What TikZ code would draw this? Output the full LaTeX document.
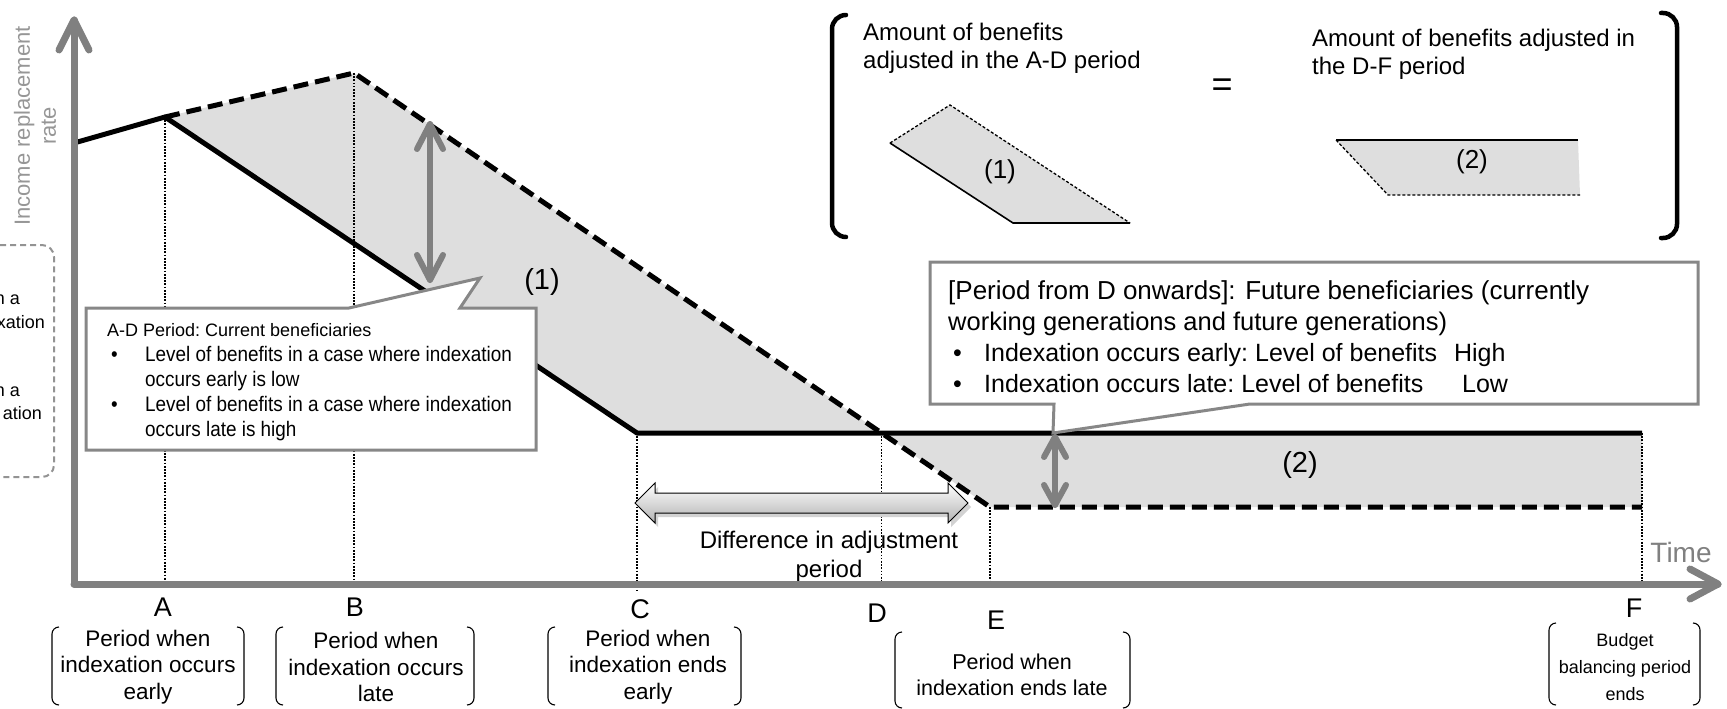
\documentclass[tikz,border=0pt]{standalone}
\usepackage{fontspec}
\setmainfont{Liberation Sans}
\newfontfamily\narrowfont[FakeStretch=0.9]{Liberation Sans}
\usetikzlibrary{calc}
\definecolor{axgray}{RGB}{128,128,128}
\definecolor{labgray}{RGB}{150,150,150}
\definecolor{shadegray}{RGB}{222,222,222}
\definecolor{boxgray}{RGB}{135,135,135}
\newcommand{\fsz}[2]{\fontsize{#1}{#2}\selectfont}
\newcommand{\parpair}[4]{%
  \draw[paren] (#1+7,#3) -- (#1,#3) -- (#1,#4) -- (#1+7,#4);
  \draw[paren] (#2-7,#3) -- (#2,#3) -- (#2,#4) -- (#2-7,#4);}
\begin{document}
\begin{tikzpicture}[x=1pt,y=-1pt,
  axisline/.style={line width=7pt, draw=axgray, line cap=round, line join=round},
  garrow/.style={line width=6pt, draw=axgray, line cap=round, line join=round},
  solidline/.style={line width=5pt, line join=round},
  dashline/.style={line width=5pt, dash pattern=on 15pt off 7pt},
  dotline/.style={line width=1.7pt, dash pattern=on 1.7pt off 1.5pt},
  smalldash/.style={line width=1.3pt, dash pattern=on 3pt off 2pt},
  smallsolid/.style={line width=1.6pt},
  callout/.style={draw=boxgray, line width=3pt, fill=white, line join=miter},
  lab/.style={inner sep=0pt, font=\fsz{22.5}{26.5}, align=center},
  letter/.style={inner sep=0pt, font=\fsz{27}{30}},
  paren/.style={line width=1.1pt, rounded corners=7pt},
  bigparen/.style={line width=4.5pt, rounded corners=14pt, line cap=round},
]
\useasboundingbox (0,0) rectangle (1727,709);

% key points
\coordinate (O) at (74,584);
\coordinate (Ytip) at (74,20);
\coordinate (Xtip) at (1718,584);
\coordinate (S0) at (74,143);
\coordinate (A) at (165,117);
\coordinate (B) at (354,73);
\coordinate (C) at (637,433);
\coordinate (E) at (990,507);
\coordinate (Ft) at (1642,433);
\coordinate (Fb) at (1642,507);
\coordinate (D) at (intersection of B--E and C--Ft);

% shaded areas
\fill[shadegray] (A) -- (B) -- (D) -- (C) -- cycle;
\fill[shadegray] (D) -- (E) -- (Fb) -- (Ft) -- cycle;

% dotted guides
\draw[dotline] (A) -- (A |- O);
\draw[dotline] (B) -- (B |- O);
\draw[dotline] (C) -- ($(C |- O)+(0,6)$);
\draw[dotline] (D) -- (D |- O);
\draw[dotline] (E) -- ($(E |- O)+(0,3)$);
\draw[dotline] (Ft) -- (Ft |- O);

% benefit lines
\draw[solidline] (S0) -- (A) -- (C) -- (Ft);
\draw[dashline] (A) -- (B) -- (E) -- (Fb);

% gray double arrows
\coordinate (g1t) at (430,124);
\coordinate (g1b) at (430,280);
\draw[garrow] (g1t) -- (g1b);
\draw[garrow] ($(g1t)+(-13,25)$) -- (g1t) -- ($(g1t)+(13,25)$);
\draw[garrow] ($(g1b)+(-13,-25)$) -- (g1b) -- ($(g1b)+(13,-25)$);
\coordinate (g2t) at (1055,437);
\coordinate (g2b) at (1055,505);
\draw[garrow] (g2t) -- (g2b);
\draw[garrow] ($(g2t)+(-11,20)$) -- (g2t) -- ($(g2t)+(11,20)$);
\draw[garrow] ($(g2b)+(-11,-20)$) -- (g2b) -- ($(g2b)+(11,-20)$);

% block double arrow
\coordinate (dl) at (635,503);
\coordinate (dr) at (968,503);
\fill[gray!35] ($(dl)+(3,4)$) -- ++(20,-20) -- ++(0,10) -- ($(dr)+(-17,-6)$) -- ++(0,-10) -- ($(dr)+(3,4)$) -- ++(-20,20) -- ++(0,-10) -- ($(dl)+(23,14)$) -- ++(0,10) -- cycle;
\path[draw=black, line width=1pt, top color=white, bottom color=gray!60, line join=miter]
  (dl) -- ++(20,-20) -- ++(0,10) -- ($(dr)+(-20,-10)$) -- ++(0,-10) -- (dr)
  -- ++(-20,20) -- ++(0,-10) -- ($(dl)+(20,10)$) -- ++(0,10) -- cycle;
\node[font=\fsz{24}{29}, align=center, inner sep=0pt] (diff) at (829,557) {Difference in adjustment\\period};

% region labels
\node[font=\fsz{29}{32}, inner sep=0pt] (n1) at (542,282) {(1)};
\node[font=\fsz{29}{32}, inner sep=0pt] (n2) at (1300,465) {(2)};

% callout 1
\draw[callout] (86,308) -- (349,308) -- (480,278) -- (460,308) -- (536,308) -- (536,450) -- (86,450) -- cycle;
\node[anchor=north west, inner sep=0pt, align=left, font=\narrowfont\fsz{21}{25}] (c1) at (107,323)
 {{\normalfont\fsz{18}{25}\frenchspacing A-D Period: Current beneficiaries}\\
  \makebox[38pt][l]{\hspace{4pt}\textbullet}Level of benefits in a case where indexation\\
  \hspace*{38pt}occurs early is low\\
  \makebox[38pt][l]{\hspace{4pt}\textbullet}Level of benefits in a case where indexation\\
  \hspace*{38pt}occurs late is high};

% callout 2
\draw[callout] (930,262) -- (1698,262) -- (1698,404) -- (1250,404) -- (1053,433) -- (1054,404) -- (930,404) -- cycle;
\node[anchor=north west, inner sep=0pt, align=left, font=\fsz{25.5}{31}] (c2) at (948,280)
 {{\fsz{26}{31}[Period from D onwards]: Future beneficiaries (currently}\\
  working generations and future generations)\\
  {\fsz{25}{31}\frenchspacing\makebox[36pt][l]{\hspace{5pt}\textbullet}\makebox[470pt][l]{Indexation occurs early: Level of benefits}High}\\
  {\fsz{25}{31}\frenchspacing\makebox[36pt][l]{\hspace{5pt}\textbullet}\makebox[478pt][l]{Indexation occurs late: Level of benefits}Low}};

% top comparison
\draw[bigparen] (846,15) -- (832,15) -- (832,237) -- (846,237);
\draw[bigparen] (1661,13) -- (1677,13) -- (1677,238) -- (1661,238);
\node[anchor=north west, inner sep=0pt, align=left, font=\fsz{24}{28}] (amt1) at (863,23) {Amount of benefits\\adjusted in the A-D period};
\node[anchor=north west, inner sep=0pt, align=left, font=\fsz{24}{28}] (amt2) at (1312,29) {Amount of benefits adjusted in\\the D-F period};
\node[font=\fsz{36}{38}, inner sep=0pt] (eq) at (1222,88) {=};
\fill[shadegray] (890,143) -- (950,105) -- (1130,223) -- (1013,223) -- cycle;
\draw[smalldash] (890,143) -- (950,105) -- (1130,223);
\draw[smallsolid] (1130,223) -- (1013,223) -- (890,143);
\node[font=\fsz{26}{28}, inner sep=0pt] (s1) at (1000,172) {(1)};
\fill[shadegray] (1336,140) -- (1578,140) -- (1580,195) -- (1388,195) -- cycle;
\draw[smallsolid] (1336,140) -- (1578,140);
\draw[smalldash] (1336,140) -- (1388,195) -- (1580,195);
\node[font=\fsz{26}{28}, inner sep=0pt] (s2) at (1472,162) {(2)};

% left clipped dashed box
\begin{scope}
\clip (0,0) rectangle (1727,709);
\draw[draw=gray!85, line width=2pt, dash pattern=on 6pt off 4pt, rounded corners=12pt] (-20,245) -- (54,245) -- (54,477) -- (-20,477);
\node[anchor=base east, inner sep=0pt, font=\fsz{18}{22}] (f1) at (20,304) {n a};
\node[anchor=base east, inner sep=0pt, font=\fsz{18}{22}] (f2) at (45,328) {xation};
\node[anchor=base east, inner sep=0pt, font=\fsz{18}{22}] (f3) at (20,396) {n a};
\node[anchor=base east, inner sep=0pt, font=\fsz{18}{22}] (f4) at (42,419) {ation};
\end{scope}

% axes
\draw[axisline] (O) -- (Ytip);
\draw[axisline] (O) -- (Xtip);
\draw[axisline] ($(Ytip)+(-15,30)$) -- (Ytip) -- ($(Ytip)+(15,30)$);
\draw[axisline] ($(Xtip)+(-28,-15)$) -- (Xtip) -- ($(Xtip)+(-28,15)$);
\node[rotate=90, font=\fsz{22}{26}, text=labgray, align=center, inner sep=0pt] (ylab) at (35,126) {Income replacement\\rate};
\node[font=\fsz{28}{30}, text=axgray, inner sep=0pt] (time) at (1681,552) {Time};

% point letters
\node[letter] (lA) at (163,607) {A};
\node[letter] (lB) at (355,607) {B};
\node[letter] (lC) at (640,609) {C};
\node[letter] (lD) at (877,613) {D};
\node[letter] (lE) at (996,620) {E};
\node[letter] (lF) at (1634,608) {F};

% period labels
\node[lab] (pA) at (148,667) {Period when\\indexation occurs\\early};
\parpair{52}{244}{627}{705}
\node[lab] (pB) at (376,667) {Period when\\indexation occurs\\late};
\parpair{276}{474}{627}{705}
\node[lab] (pC) at (648,667) {Period when\\indexation ends\\early};
\parpair{548}{741}{627}{705}
\node[lab, font=\fsz{21.5}{26.5}] (pE) at (1012,675) {Period when\\indexation ends late};
\parpair{895}{1130}{632}{708}
\node[lab, font=\fsz{18}{27}] (pF) at (1625,667) {Budget\\balancing period\\ends};
\parpair{1549}{1700}{623}{705}
\end{tikzpicture}
\end{document}
